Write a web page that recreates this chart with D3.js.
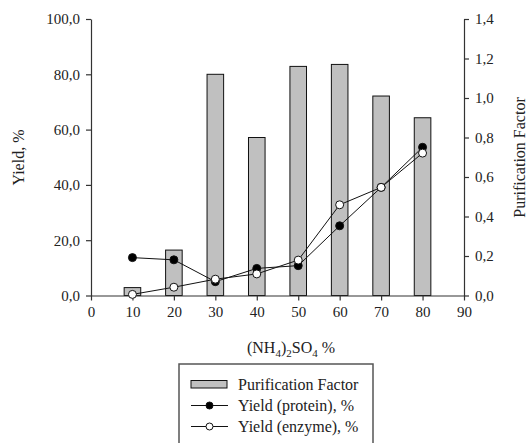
<!DOCTYPE html>
<html>
<head>
<meta charset="utf-8">
<script src="https://cdn.jsdelivr.net/npm/d3@7"></script>
<style>
  body { margin: 0; background: #fff; }
  svg { display: block; }
  .axis path, .axis line { stroke: #333; stroke-width: 1.2; }
  .axis text { fill: #222; }
</style>
</head>
<body>
<svg id="chart" width="527" height="443"></svg>
<script>
// Ammonium sulfate saturation steps (%)
const saturation = [10, 20, 30, 40, 50, 60, 70, 80];
// Purification factor per fraction (right axis)
const purificationFactor = [0.04, 0.23, 1.12, 0.80, 1.16, 1.17, 1.01, 0.90];
// Yields, % (left axis)
const yieldProtein = [13.7, 12.9, 5.0, 9.8, 10.8, 25.2, 39.1, 53.6];
const yieldEnzyme = [0.4, 3.0, 5.9, 7.8, 12.8, 32.8, 39.1, 51.5];
// Axis ticks
const xTicks = [0, 10, 20, 30, 40, 50, 60, 70, 80, 90];
const yieldTicks = [0, 20, 40, 60, 80, 100];
const pfTicks = [0, 0.2, 0.4, 0.6, 0.8, 1.0, 1.2, 1.4];

const serif = "'Liberation Serif', 'DejaVu Serif', serif";
const svg = d3.select("#chart").style("font-family", serif);
const plotL = 91, plotR = 464, plotT = 19, plotB = 295.5;

const x = d3.scaleLinear().domain([0, 90]).range([plotL, plotR]);
const yL = d3.scaleLinear().domain([0, 100]).range([plotB, plotT]);
const yR = d3.scaleLinear().domain([0, 1.4]).range([plotB, plotT]);
const comma = d => d3.format(".1f")(d).replace(".", ",");

// Purification factor bars
const barW = x(4) - x(0);
svg.append("g").selectAll("rect")
  .data(saturation.map((s, i) => ({ s, v: purificationFactor[i] })))
  .join("rect")
  .attr("x", d => x(d.s) - barW / 2)
  .attr("y", d => yR(d.v))
  .attr("width", barW)
  .attr("height", d => yR(0) - yR(d.v))
  .attr("fill", "#c0c0c0")
  .attr("stroke", "#111")
  .attr("stroke-width", 1);

// Axes
function styleAxis(g) {
  g.attr("font-family", null).attr("font-size", null);
  g.selectAll("text").style("font-family", serif).style("font-size", "15px");
}
svg.append("g").attr("class", "axis")
  .attr("transform", `translate(0,${plotB})`)
  .call(d3.axisBottom(x).tickValues(xTicks).tickSize(5).tickPadding(6).tickSizeOuter(0))
  .call(styleAxis);
svg.append("g").attr("class", "axis")
  .attr("transform", `translate(${plotL},0)`)
  .call(d3.axisLeft(yL).tickValues(yieldTicks).tickFormat(comma).tickSize(5).tickPadding(6).tickSizeOuter(0))
  .call(styleAxis);
svg.append("g").attr("class", "axis")
  .attr("transform", `translate(${plotR},0)`)
  .call(d3.axisRight(yR).tickValues(pfTicks).tickFormat(comma).tickSize(5).tickPadding(6).tickSizeOuter(0))
  .call(styleAxis);

// Yield lines with markers
function series(values, fill) {
  const pts = saturation.map((s, i) => [x(s), yL(values[i])]);
  svg.append("path")
    .attr("d", d3.line()(pts))
    .attr("fill", "none")
    .attr("stroke", "#111")
    .attr("stroke-width", 1);
  svg.append("g").selectAll("circle")
    .data(pts).join("circle")
    .attr("cx", d => d[0]).attr("cy", d => d[1]).attr("r", 4)
    .attr("fill", fill).attr("stroke", "#111").attr("stroke-width", 1);
}
series(yieldProtein, "#000");
series(yieldEnzyme, "#fff");

// Axis titles
svg.append("text")
  .attr("transform", "translate(24,157.5) rotate(-90)")
  .attr("text-anchor", "middle")
  .style("font-family", serif).style("font-size", "16px").attr("fill", "#222")
  .text("Yield, %");
svg.append("text")
  .attr("transform", "translate(525,157.5) rotate(-90)")
  .attr("text-anchor", "middle")
  .style("font-family", serif).style("font-size", "16px").attr("fill", "#222")
  .text("Purification Factor");

const xt = svg.append("text")
  .attr("x", 291).attr("y", 353)
  .attr("text-anchor", "middle")
  .style("font-family", serif).style("font-size", "16px").attr("fill", "#222");
xt.append("tspan").text("(NH");
xt.append("tspan").style("font-size", "11px").attr("dy", 4).text("4");
xt.append("tspan").attr("dy", -4).text(")");
xt.append("tspan").style("font-size", "11px").attr("dy", 4).text("2");
xt.append("tspan").attr("dy", -4).text("SO");
xt.append("tspan").style("font-size", "11px").attr("dy", 4).text("4");
xt.append("tspan").attr("dy", -4).text(" %");

// Legend
const lg = svg.append("g");
lg.append("rect")
  .attr("x", 179).attr("y", 364).attr("width", 194).attr("height", 100)
  .attr("fill", "#fff").attr("stroke", "#555").attr("stroke-width", 1.5);
const items = [
  { label: "Purification Factor", kind: "bar" },
  { label: "Yield (protein), %", kind: "dot", fill: "#000" },
  { label: "Yield (enzyme), %", kind: "dot", fill: "#fff" }
];
items.forEach((it, i) => {
  const cy = 384.5 + i * 21;
  if (it.kind === "bar") {
    lg.append("rect").attr("x", 191).attr("y", cy - 4).attr("width", 36).attr("height", 7.5)
      .attr("fill", "#c0c0c0").attr("stroke", "#111").attr("stroke-width", 1);
  } else {
    lg.append("line").attr("x1", 191).attr("x2", 228).attr("y1", cy).attr("y2", cy)
      .attr("stroke", "#111").attr("stroke-width", 1);
    lg.append("circle").attr("cx", 209.5).attr("cy", cy).attr("r", 3.5)
      .attr("fill", it.fill).attr("stroke", "#111").attr("stroke-width", 1);
  }
  lg.append("text").attr("x", 238).attr("y", cy + 5.5)
    .style("font-family", serif).style("font-size", "16px").attr("fill", "#222").text(it.label);
});
</script>
</body>
</html>
